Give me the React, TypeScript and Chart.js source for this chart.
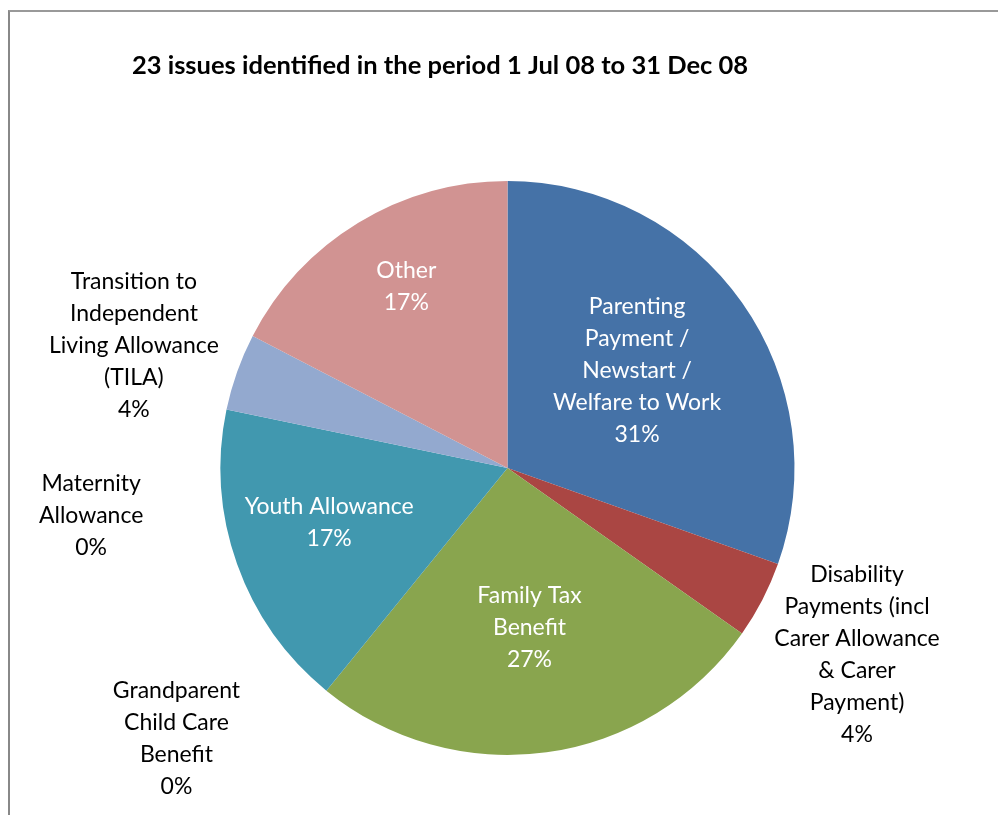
import React, { useEffect, useRef } from "react";
import { Chart, registerables } from "chart.js";

Chart.register(...registerables);

const chartTitle = "23 issues identified in the period 1 Jul 08 to 31 Dec 08";
const categories: string[][] = [
  ["Parenting", "Payment /", "Newstart /", "Welfare to Work"],
  ["Disability", "Payments (incl", "Carer Allowance", "& Carer", "Payment)"],
  ["Family Tax", "Benefit"],
  ["Grandparent", "Child Care", "Benefit"],
  ["Youth Allowance"],
  ["Maternity", "Allowance"],
  ["Transition to", "Independent", "Living Allowance", "(TILA)"],
  ["Other"],
];
const issueCounts = [7, 1, 6, 0, 4, 0, 1, 4];
const percentLabels = ["31%", "4%", "27%", "0%", "17%", "0%", "4%", "17%"];
const sliceColors = ["#4572A7", "#AA4643", "#89A54E", "#80699B", "#4198AF", "#DB843D", "#93A9CF", "#D19392"];

// label placement (radius factor, angle nudge in degrees), white label inside
const labelRadius = [0.564, 1.381, 0.563, 1.49, 0.65, 1.46, 1.37, 0.725];
const labelNudge = [-1.6, 0.75, 0, 11.6, 2.5, -18.2, -1.4, 2.2];
const labelInside = [true, false, true, false, true, false, false, true];

const FONT = "Lato, 'Noto Sans', sans-serif";

const labelPlugin = {
  id: "sliceLabels",
  afterDatasetsDraw(chart: any) {
    const ctx = chart.ctx as CanvasRenderingContext2D;
    const meta = chart.getDatasetMeta(0);
    ctx.save();
    ctx.textAlign = "center";
    ctx.textBaseline = "middle";
    ctx.font = `23px ${FONT}`;
    meta.data.forEach((arc: any, i: number) => {
      const { x, y, startAngle, endAngle, outerRadius } = arc.getProps(
        ["x", "y", "startAngle", "endAngle", "outerRadius"],
        true
      );
      const mid = (startAngle + endAngle) / 2 + (labelNudge[i] * Math.PI) / 180;
      const r = outerRadius * labelRadius[i];
      const cx = x + Math.cos(mid) * r;
      const cy = y + Math.sin(mid) * r;
      const lines = [...categories[i], percentLabels[i]];
      const lh = 32;
      const top = cy - ((lines.length - 1) * lh) / 2;
      ctx.fillStyle = labelInside[i] ? "#FFFFFF" : "#000000";
      lines.forEach((ln, k) => ctx.fillText(ln, cx, top + k * lh));
    });
    // title
    ctx.fillStyle = "#000000";
    ctx.font = `bold 25.5px ${FONT}`;
    ctx.fillText(chartTitle, 440, 66);
    ctx.restore();
  },
};

export default function App() {
  const ref = useRef<HTMLCanvasElement | null>(null);
  useEffect(() => {
    if (!ref.current) return;
    const chart = new Chart(ref.current, {
      type: "pie",
      data: {
        labels: categories.map((c) => c.join(" ")),
        datasets: [
          {
            data: issueCounts,
            backgroundColor: sliceColors,
            borderWidth: 0,
          },
        ],
      },
      options: {
        responsive: false,
        animation: false,
        layout: { padding: { left: 220, right: 203, top: 181, bottom: 60 } },
        plugins: {
          legend: { display: false },
          tooltip: { enabled: false },
          title: { display: false },
        },
      },
      plugins: [labelPlugin],
    });
    return () => chart.destroy();
  }, []);
  return (
    <div style={{ position: "absolute", left: 0, top: 0, width: 998, height: 815, background: "#fff" }}>
      <div
        style={{
          position: "absolute",
          left: 8,
          top: 10,
          width: 1000,
          height: 820,
          borderTop: "2px solid #999",
          borderLeft: "2px solid #888",
        }}
      />
      <canvas ref={ref} width={998} height={815} style={{ position: "absolute", left: 0, top: 0, width: 998, height: 815 }} />
    </div>
  );
}
